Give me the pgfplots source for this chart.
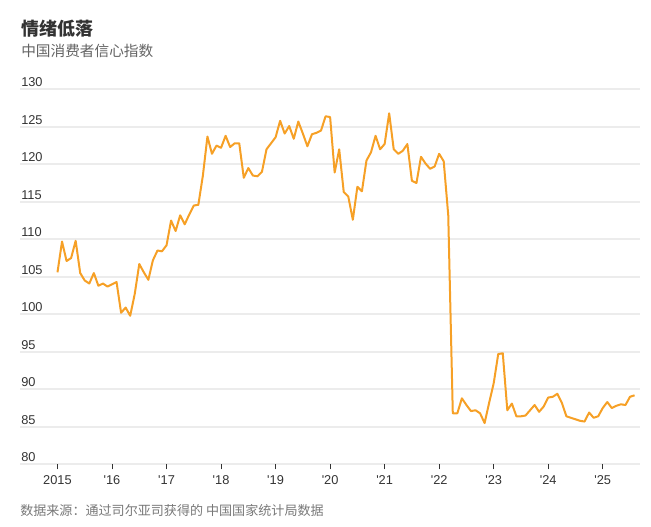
\documentclass[border=0pt]{standalone}
\usepackage{pgfplots}
\pgfplotsset{compat=1.18}
\usepackage{pgfplotstable}
\usepackage{fontspec}
\setmainfont{Liberation Sans}
\newfontfamily\cjk{Noto Sans CJK SC}
\definecolor{lineor}{RGB}{246,160,38}
\definecolor{gridc}{RGB}{236,236,236}
\definecolor{txt}{RGB}{51,51,51}
\definecolor{sub}{RGB}{100,100,100}
\definecolor{foot}{RGB}{120,120,120}
\pgfplotstableread{
m v
0 105.6
1 109.7
2 107.1
3 107.5
4 109.8
5 105.5
6 104.5
7 104.1
8 105.5
9 103.8
10 104.1
11 103.7
12 104.0
13 104.3
14 100.2
15 100.9
16 99.8
17 102.7
18 106.7
19 105.6
20 104.6
21 107.2
22 108.5
23 108.4
24 109.2
25 112.5
26 111.1
27 113.2
28 112.0
29 113.3
30 114.5
31 114.6
32 118.5
33 123.7
34 121.4
35 122.5
36 122.2
37 123.8
38 122.3
39 122.8
40 122.8
41 118.2
42 119.5
43 118.5
44 118.4
45 119.0
46 122.0
47 122.8
48 123.6
49 125.8
50 124.1
51 125.1
52 123.4
53 125.7
54 124.1
55 122.4
56 124.0
57 124.2
58 124.5
59 126.4
60 126.3
61 118.9
62 122.0
63 116.3
64 115.7
65 112.6
66 117.0
67 116.4
68 120.5
69 121.6
70 123.8
71 122.0
72 122.7
73 126.8
74 122.0
75 121.4
76 121.8
77 122.7
78 117.8
79 117.5
80 121.0
81 120.1
82 119.4
83 119.7
84 121.4
85 120.4
86 113.2
87 86.8
88 86.8
89 88.8
90 87.9
91 87.1
92 87.2
93 86.8
94 85.5
95 88.2
96 90.8
97 94.7
98 94.8
99 87.2
100 88.1
101 86.4
102 86.4
103 86.5
104 87.2
105 87.9
106 87.0
107 87.7
108 88.9
109 89.0
110 89.4
111 88.2
112 86.4
113 86.2
114 86.0
115 85.8
116 85.7
117 86.9
118 86.2
119 86.4
120 87.5
121 88.3
122 87.5
123 87.8
124 88.0
125 87.9
126 89.0
127 89.2
}\cci
\begin{document}
\begin{tikzpicture}
\begin{axis}[
  name=ax,
  scale only axis, width=465pt, height=281.25pt,
  xmin=-8.25, xmax=128.2, ymin=80, ymax=130,
  axis x line*=bottom, axis y line*=left,
  axis line style={draw=none},
  xtick={0,12,...,120},
  xticklabels={2015,\textquotesingle16,\textquotesingle17,\textquotesingle18,\textquotesingle19,\textquotesingle20,\textquotesingle21,\textquotesingle22,\textquotesingle23,\textquotesingle24,\textquotesingle25},
  ytick={80,85,...,130},
  tick align=outside,
  major tick length=3.75pt,
  x tick style={draw=txt, line width=0.75pt},
  y tick style={draw=none},
  ymajorgrids,
  grid style={line width=1.5pt, draw=gridc},
  /pgf/number format/assume math mode=true,
  tick label style={font=\fontsize{9.6}{11}\selectfont, text=txt},
  yticklabel style={anchor=south west, inner xsep=0pt, inner ysep=1.5pt, xshift=4.5pt},
  xticklabel style={yshift=-1pt},
]
\addplot[lineor, line width=1.5pt, line join=round, no marks] table[x=m,y=v] {\cci};
\end{axis}
\begin{scope}[shift={(ax.south west)}, x=0.75pt, y=0.75pt]
\pgfresetboundingbox
\path[use as bounding box] (-20,-62.7) rectangle (631,464.3);
\node[anchor=west,inner sep=0pt,text=txt] at (1,435.8) {\cjk\bfseries\fontsize{13.5}{16}\selectfont 情绪低落};
\node[anchor=west,inner sep=0pt,text=sub] at (1,413.8) {\cjk\fontsize{11}{13}\selectfont 中国消费者信心指数};
\node[anchor=west,inner sep=0pt,text=foot] at (0,-46.4) {\cjk\fontsize{9.8}{12}\selectfont 数据来源：通过司尔亚司获得的 中国国家统计局数据};
\end{scope}
\end{tikzpicture}
\end{document}
